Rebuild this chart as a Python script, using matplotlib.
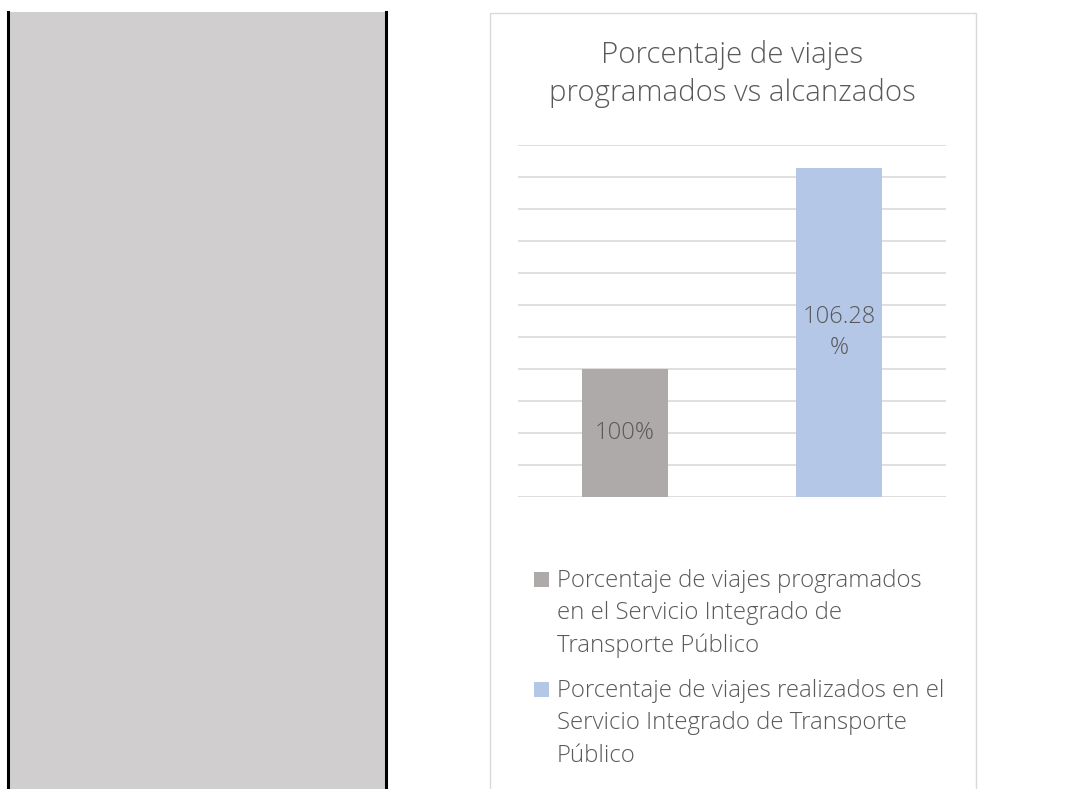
import matplotlib

matplotlib.use("Agg")
import matplotlib.pyplot as plt
from matplotlib.patches import Rectangle

W, H = 1065, 789

categories = ["programados", "realizados"]
values = [100.0, 106.28]
value_labels = ["100%", "106.28\n%"]
legend_labels = [
    ["Porcentaje de viajes programados", "en el Servicio Integrado de", "Transporte Público"],
    ["Porcentaje de viajes realizados en el", "Servicio Integrado de Transporte", "Público"],
]
colors = ["#AEAAAA", "#B4C7E7"]
y_min, y_max, y_step = 96, 107, 1
title_lines = ["Porcentaje de viajes", "programados vs alcanzados"]

TEXT = "#595959"
GRID = "#D9D9D9"

plt.rcParams["font.family"] = ["Open Sans", "DejaVu Sans"]


def fx(x):
    return x / W


def fy(y):
    return 1 - y / H


fig = plt.figure(figsize=(W / 100, H / 100), dpi=100)

# left gray panel with black edges
fig.patches.append(Rectangle((fx(8), fy(800)), fx(386) - fx(8), fy(12) - fy(800),
                             transform=fig.transFigure, facecolor="#D0CECE",
                             edgecolor="none", zorder=-2))
for xl in (8, 386):
    fig.add_artist(plt.Line2D([fx(xl), fx(xl)], [fy(12), fy(800)], color="black",
                              linewidth=2.2, transform=fig.transFigure, zorder=-1))

# chart frame
fig.patches.append(Rectangle((fx(489.5), fy(800)), fx(975.5) - fx(489.5), fy(12.5) - fy(800),
                             transform=fig.transFigure, facecolor="none",
                             edgecolor=GRID, linewidth=1.0, zorder=-1))

ax = fig.add_axes([fx(518), fy(497), fx(946) - fx(518), fy(145) - fy(497)])
x = list(range(len(values)))
ax.bar(x, values, width=0.4, color=colors, zorder=3)
ax.set_xlim(-0.5, len(values) - 0.5)
ax.set_ylim(y_min, y_max)
ax.set_yticks(range(y_min, y_max + 1, y_step))
ax.grid(axis="y", color=GRID, linewidth=1.2, zorder=0)
ax.set_axisbelow(True)
ax.tick_params(left=False, bottom=False, labelleft=False, labelbottom=False)
for s in ax.spines.values():
    s.set_visible(False)
ax.patch.set_alpha(0)

for xi, v, lab in zip(x, values, value_labels):
    ax.text(xi, (y_min + v) / 2, lab, ha="center", va="center", fontsize=17,
            color=TEXT, fontweight="light", linespacing=1.42, zorder=4)

for line, base in zip(title_lines, [63, 100.5]):
    fig.text(fx(732), fy(base), line, ha="center", va="baseline", fontsize=21.2,
             color=TEXT, fontweight="light")

# legend
legend_bases = [586.7, 696.7]
line_gap = 32.5
sq = 15
for lines, col, base in zip(legend_labels, colors, legend_bases):
    fig.patches.append(Rectangle((fx(534), fy(base + 0.5)), fx(534 + sq) - fx(534), sq / H,
                                 transform=fig.transFigure, facecolor=col,
                                 edgecolor="none"))
    for i, line in enumerate(lines):
        fig.text(fx(557), fy(base + i * line_gap), line, ha="left", va="baseline",
                 fontsize=17.3, color=TEXT, fontweight="light")

fig.savefig("out.png", dpi=100)
